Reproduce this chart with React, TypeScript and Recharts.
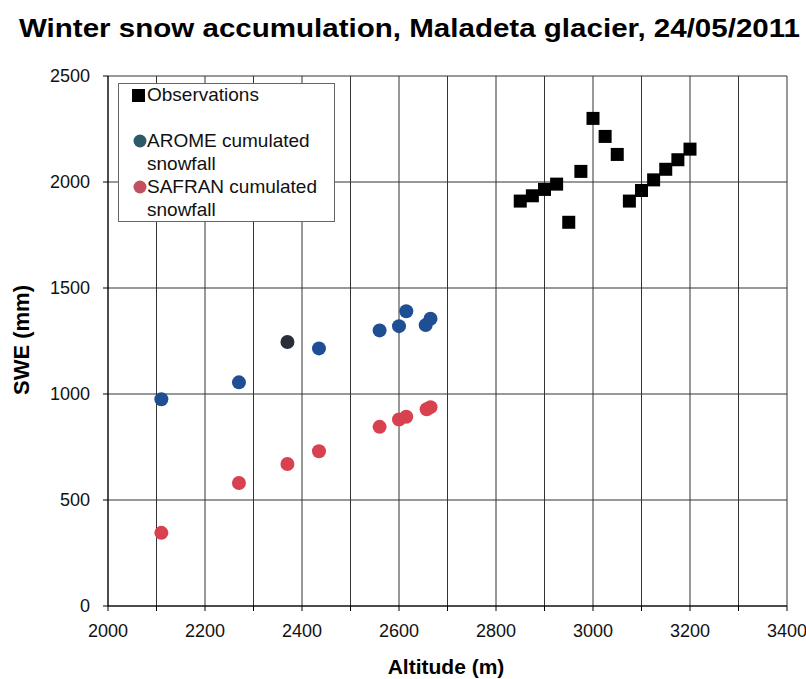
import React from "react";
import { ScatterChart, Scatter, XAxis, YAxis, CartesianGrid, Legend, Cell } from "recharts";

const obsAlt = [2850, 2875, 2900, 2925, 2950, 2975, 3000, 3025, 3050, 3075, 3100, 3125, 3150, 3175, 3200];
const obsSwe = [1910, 1935, 1965, 1990, 1810, 2050, 2300, 2215, 2130, 1910, 1960, 2010, 2060, 2105, 2155];

const aromeAlt = [2110, 2270, 2370, 2435, 2560, 2600, 2615, 2655, 2665];
const aromeSwe = [975, 1055, 1245, 1215, 1300, 1320, 1390, 1325, 1355];

const safranAlt = [2110, 2270, 2370, 2435, 2560, 2600, 2615, 2657, 2665];
const safranSwe = [345, 580, 670, 730, 845, 880, 893, 928, 938];

const xTicks = [2000, 2100, 2200, 2300, 2400, 2500, 2600, 2700, 2800, 2900, 3000, 3100, 3200, 3300, 3400];
const yTicks = [0, 500, 1000, 1500, 2000, 2500];

const obsData = obsAlt.map((a, i) => ({ x: a, y: obsSwe[i] }));
const aromeData = aromeAlt.map((a, i) => ({ x: a, y: aromeSwe[i] }));
const safranData = safranAlt.map((a, i) => ({ x: a, y: safranSwe[i] }));

const BLUE = "#1d4f92";
const RED = "#d8414f";
const FONT = "'Liberation Sans', Arial, sans-serif";

const Square = (props: any) => {
  const { cx, cy } = props;
  return <rect x={cx - 6.5} y={cy - 6.5} width={13} height={13} fill="#000" />;
};
const Dot = (props: any) => {
  const { cx, cy, fill } = props;
  return <circle cx={cx} cy={cy} r={7} fill={fill} />;
};

const LegendBox = () => (
  <div
    style={{
      width: 217,
      height: 139,
      border: "1px solid #666",
      background: "#fff",
      position: "relative",
      boxSizing: "border-box",
    }}
  >
    <svg width={217} height={139} style={{ position: "absolute", left: -1, top: -1 }}>
      <rect x={14} y={6} width={13} height={13} fill="#000" />
      <circle cx={22} cy={58} r={6.5} fill="#2d5a68" />
      <circle cx={22} cy={104} r={6.5} fill="#c25060" />
      <text x={29} y={18} fontFamily={FONT} fontSize={19} fill="#111">Observations</text>
      <text x={29} y={64} fontFamily={FONT} fontSize={19} fill="#111">AROME cumulated</text>
      <text x={29} y={87} fontFamily={FONT} fontSize={19} fill="#111">snowfall</text>
      <text x={29} y={110} fontFamily={FONT} fontSize={19} fill="#111">SAFRAN cumulated</text>
      <text x={29} y={133} fontFamily={FONT} fontSize={19} fill="#111">snowfall</text>
    </svg>
  </div>
);

export default function App() {
  return (
    <div style={{ position: "absolute", left: 0, top: 0, width: 806, height: 679, background: "#fff" }}>
      <svg width={806} height={60} style={{ position: "absolute", left: 0, top: 0 }}>
        <text
          x={19}
          y={37}
          fontFamily={FONT}
          fontWeight="bold"
          fontSize={26}
          textLength={781}
          lengthAdjust="spacingAndGlyphs"
          fill="#000"
        >
          Winter snow accumulation, Maladeta glacier, 24/05/2011
        </text>
      </svg>
      <div style={{ position: "absolute", left: 0, top: 0 }}>
        <ScatterChart width={806} height={679} margin={{ top: 76, right: 19, bottom: 43, left: 48 }}>
          <CartesianGrid stroke="#333" strokeWidth={1} horizontalValues={yTicks} verticalValues={xTicks} />
          <XAxis
            type="number"
            dataKey="x"
            domain={[2000, 3400]}
            ticks={xTicks}
            interval={0}
            tickFormatter={(v: number) => (v % 200 === 0 ? String(v) : "")}
            tick={{ fontFamily: FONT, fontSize: 18, fill: "#111" }}
            tickSize={5}
            tickMargin={13}
            stroke="#000"
            height={30}
            allowDataOverflow
          />
          <YAxis
            type="number"
            dataKey="y"
            domain={[0, 2500]}
            ticks={yTicks}
            interval={0}
            tick={{ fontFamily: FONT, fontSize: 18, fill: "#111" }}
            tickSize={5}
            tickMargin={13}
            stroke="#000"
            width={60}
            allowDataOverflow
          />
          <Legend
            layout="vertical"
            align="center"
            verticalAlign="middle"
            content={() => <LegendBox />}
            wrapperStyle={{ position: "absolute", left: 118, top: 83, width: 217, height: 139 }}
          />
          <Scatter name="Observations" data={obsData} fill="#000" shape={Square} isAnimationActive={false} />
          <Scatter name="AROME cumulated snowfall" data={aromeData} fill={BLUE} shape={Dot} isAnimationActive={false}>
            {aromeData.map((d, i) => (
              <Cell key={i} fill={d.x === 2370 ? "#2a2e38" : BLUE} />
            ))}
          </Scatter>
          <Scatter name="SAFRAN cumulated snowfall" data={safranData} fill={RED} shape={Dot} isAnimationActive={false} />
        </ScatterChart>
      </div>
      <svg width={806} height={679} style={{ position: "absolute", left: 0, top: 0, pointerEvents: "none" }}>
        <text
          x={446}
          y={674}
          textAnchor="middle"
          fontFamily={FONT}
          fontWeight="bold"
          fontSize={21}
          fill="#000"
        >
          Altitude (m)
        </text>
        <text
          x={0}
          y={0}
          transform="translate(29,340) rotate(-90)"
          textAnchor="middle"
          fontFamily={FONT}
          fontWeight="bold"
          fontSize={22}
          fill="#000"
        >
          SWE (mm)
        </text>
      </svg>
    </div>
  );
}
